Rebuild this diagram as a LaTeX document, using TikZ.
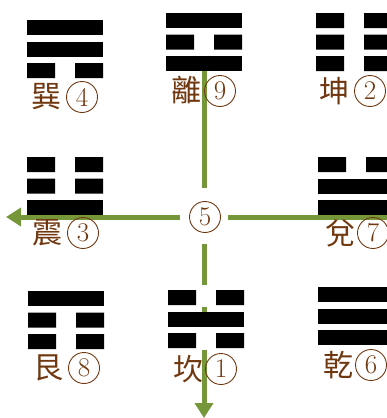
\documentclass[tikz,border=0pt]{standalone}
\usepackage{fontspec}
\newfontfamily\cjk{Noto Sans CJK TC}
\usetikzlibrary{arrows.meta}
\definecolor{guagreen}{RGB}{118,150,58}
\definecolor{lblbrown}{RGB}{112,56,16}
\newcommand{\guabar}[3]{\ifnum#3=1 \fill[black] (#1,#2) rectangle ++(76,15);\else \fill[black] (#1,#2) rectangle ++(28,15) (#1+48,#2) rectangle ++(28,15);\fi}
\newcommand{\trigram}[5]{\guabar{#1}{#2}{#3}\guabar{#1}{#2+21.5}{#4}\guabar{#1}{#2+43}{#5}}
\begin{document}
\begin{tikzpicture}[x=1pt,y=-1pt,
  lab/.style={font=\cjk\fontsize{30}{30}\selectfont, text=lblbrown, inner sep=0pt},
  num/.style={circle, draw=lblbrown, line width=0.9pt, minimum size=31pt, inner sep=0pt, text=lblbrown, font=\fontsize{27}{27}\selectfont},
  gline/.style={draw=guagreen, line width=5pt},
  garrow/.style={gline, -{Triangle[width=18pt,length=15pt]}}]
\useasboundingbox (0,0) rectangle (387,418);
% centre label
\node[num] (c5) at (205,217) {5};
% axis end points
\coordinate (topstart) at (204,66);
\coordinate (bottomend) at (204,418);
\coordinate (leftend) at (6,217);
\coordinate (rightend) at (390,217);
% connectors
\draw[gline, shorten >=13pt] (topstart) -- (topstart |- c5.north);
\draw[garrow, shorten <=11pt] (c5.south -| bottomend) -- (bottomend);
\draw[garrow, shorten <=9pt] (c5.west) -- (leftend);
\draw[gline, shorten <=7pt] (c5.east) -- (rightend);
% white patch behind Kan
\fill[white] (196,285) rectangle (216,350);
\fill[guagreen] (201.5,307) rectangle (206.5,312);
% trigrams
\trigram{27}{20}{1}{1}{0}   % Xun
\trigram{166}{13}{1}{0}{1}  % Li
\trigram{316}{13}{0}{0}{0}  % Kun
\trigram{27}{157}{0}{0}{1}  % Zhen
\trigram{318}{157}{0}{1}{1} % Dui
\trigram{28}{291}{1}{0}{0}  % Gen
\trigram{168}{290}{0}{1}{0} % Kan
\trigram{318}{287}{1}{1}{1} % Qian
% labels
\node[lab] (n4) at (46,97) {巽};  \node[num] (c4) at (82,97) {4};
\node[lab] (n9) at (186,90) {離}; \node[num] (c9) at (220,91) {9};
\node[lab] (n2) at (334,91) {坤}; \node[num] (c2) at (370,91) {2};
\node[lab] (n3) at (47,233) {震}; \node[num] (c3) at (83,233) {3};
\node[lab] (n7) at (340,233) {兌}; \node[num] (c7) at (373,233) {7};
\node[lab] (n8) at (49,368) {艮}; \node[num] (c8) at (84,368) {8};
\node[lab] (n1) at (188,369) {坎}; \node[num] (c1) at (221,369) {1};
\node[lab] (n6) at (338,365) {乾}; \node[num] (c6) at (371,365) {6};
\end{tikzpicture}
\end{document}
